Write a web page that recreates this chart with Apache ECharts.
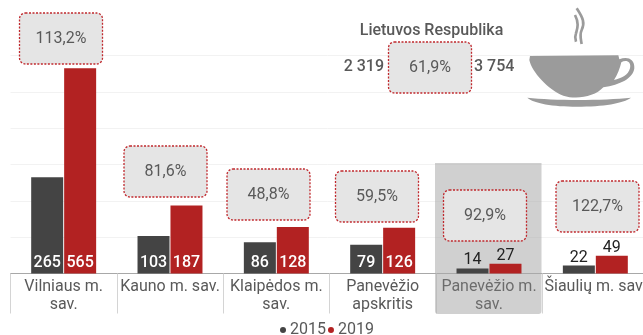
<!DOCTYPE html>
<html><head><meta charset="utf-8">
<style>html,body{margin:0;padding:0;background:#fff}#c{width:643px;height:335px}</style>
<script src="https://cdn.jsdelivr.net/npm/echarts@6/dist/echarts.min.js"></script>
</head><body><div id="c"></div>
<script>
const categories = ['Vilniaus m.\nsav.','Kauno m. sav.','Klaipėdos m.\nsav.','Panevėžio\napskritis','Panevėžio m.\nsav.','Šiaulių m. sav.'];
const values2015 = [265,103,86,79,14,22];
const values2019 = [565,187,128,126,27,49];
const changeLabels = ['113,2%','81,6%','48,8%','59,5%','92,9%','122,7%'];
const boxLeft = [19.5,124,227,335.5,443.5,556];
const boxTop = [13,146,169,171,190,181];
const nationalTitle = 'Lietuvos Respublika';
const national2015 = '2 319';
const national2019 = '3 754';
const nationalChange = '61,9%';

const DARK='#444444', RED='#b22222', TXT='#595959';
const FONT='Roboto';
echarts.graphic.registerShape('cupBody',echarts.graphic.extendPath('M30 168 L295 166 L298 178 C320 168 345 175 343 205 C340 235 300 255 250 262 C225 290 170 300 130 287 C85 270 35 215 28 180 Z M304 187 C300 205 292 225 282 240 C305 235 325 225 330 205 C335 185 318 178 304 187 Z',{}));
echarts.graphic.registerShape('cupSaucer',echarts.graphic.extendPath('M22 293 C100 302 250 302 333 293 C310 310 250 320 170 320 C100 320 40 310 22 293 Z',{}));
echarts.graphic.registerShape('cupSteam',echarts.graphic.extendPath('M170 25 C190 55 195 70 185 90 C178 105 183 120 185 132 M165 45 C178 70 172 85 168 100 C164 110 166 120 168 125',{}));
function barData(arr){
  return arr.map(v=> v<50
    ? {value:v,label:{position:'top',distance:0,color:'#222222',fontWeight:400,fontSize:16}}
    : {value:v});
}
function box(x,y,text){
  return {type:'group',x:x,y:y,z:50,children:[
    {type:'rect',shape:{x:0,y:0,width:83,height:51,r:6},z:50,
     style:{fill:'#e5e5e5',stroke:'#c0282d',lineWidth:1.3,lineDash:[2,1.5]}},
    {type:'text',x:41.5,y:25.5,z:51,style:{text:text,fill:TXT,font:'400 16px '+FONT,textAlign:'center',textVerticalAlign:'middle'}}
  ]};
}
const cupColor='#9b9b9b';
const graphics=[
  {type:'rect',x:435,y:163,z:1,shape:{width:106.5,height:151,r:[0,0,3,3]},style:{fill:'rgba(170,170,170,0.55)'}},
  {type:'text',x:431.5,y:31,z:50,style:{text:nationalTitle,fill:TXT,font:'500 16px '+FONT,textAlign:'center',textVerticalAlign:'middle'}},
  {type:'text',x:384,y:66.5,z:50,style:{text:national2015,fill:TXT,font:'500 16px '+FONT,textAlign:'right',textVerticalAlign:'middle'}},
  {type:'text',x:474,y:66.5,z:50,style:{text:national2019,fill:TXT,font:'500 16px '+FONT,textAlign:'left',textVerticalAlign:'middle'}},
  box(388.5,42,nationalChange),
  {type:'cupBody',x:520,y:0,scaleX:1/3,scaleY:1/3,z:50,style:{fill:cupColor}},
  {type:'cupSaucer',x:520,y:0,scaleX:1/3,scaleY:1/3,z:50,style:{fill:cupColor}},
  {type:'cupSteam',x:520,y:0,scaleX:1/3,scaleY:1/3,z:50,style:{fill:'none',stroke:cupColor,lineWidth:8}}
];
categories.forEach((c,i)=>graphics.push(box(boxLeft[i],boxTop[i],changeLabels[i])));

const chart=echarts.init(document.getElementById('c'),null,{renderer:'canvas'});
chart.setOption({
  animation:false,
  textStyle:{fontFamily:FONT},
  grid:{left:10.5,top:55.5,width:638,height:218,containLabel:false,outerBoundsMode:'none'},
  legend:{left:280,top:322,itemWidth:6,itemHeight:6,itemGap:2,padding:0,icon:'circle',
    textStyle:{color:TXT,fontSize:16,padding:[0,0,0,-1],fontFamily:FONT},data:['2015','2019']},
  xAxis:{type:'category',data:categories,
    axisLine:{lineStyle:{color:'#a8a8a8',width:1}},
    axisTick:{show:true,length:40,lineStyle:{color:'#d4d4d4',width:1}},
    axisLabel:{interval:0,color:(v,i)=>i===4?'#222222':TXT,fontSize:16,margin:4,lineHeight:18,fontFamily:FONT,verticalAlign:'top'}},
  yAxis:{type:'value',min:0,max:600,interval:100,axisLabel:{show:false},axisLine:{show:false},axisTick:{show:false},
    splitLine:{lineStyle:{color:'#f2f2f2',width:1}}},
  graphic:graphics,
  series:[
    {name:'2015',type:'bar',data:barData(values2015),barWidth:32,barGap:'3%',z:3,
     itemStyle:{color:DARK},
     label:{show:true,position:'insideBottom',distance:3,color:'#fff',fontWeight:500,fontSize:16}},
    {name:'2019',type:'bar',data:barData(values2019),barWidth:32,z:3,
     itemStyle:{color:RED},
     label:{show:true,position:'insideBottom',distance:3,color:'#fff',fontWeight:500,fontSize:16}}
  ]
});
</script></body></html>
